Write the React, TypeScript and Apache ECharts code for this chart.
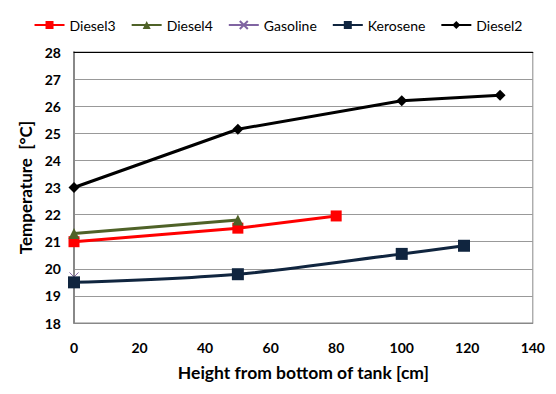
import React, { useEffect, useRef } from "react";
import * as echarts from "echarts";

// Heights above the tank bottom [cm] and measured temperatures [°C]
const diesel3Height = [0, 50, 80];
const diesel3Temp = [21.0, 21.5, 21.95];
const diesel4Height = [0, 50];
const diesel4Temp = [21.3, 21.8];
const gasolineHeight = [0];
const gasolineTemp = [19.7];
const keroseneHeight = [0, 50, 100, 119];
const keroseneTemp = [19.5, 19.8, 20.55, 20.85];
const diesel2Height = [0, 50, 100, 130];
const diesel2Temp = [23.0, 25.15, 26.2, 26.4];

const pairs = (xs: number[], ys: number[]) => xs.map((x, i) => [x, ys[i]]);

const FONT = "Lato, 'Open Sans', sans-serif";

export default function App() {
  const ref = useRef<HTMLDivElement>(null);

  useEffect(() => {
    if (!ref.current) return;
    const chart = echarts.init(ref.current, undefined, { renderer: "svg" });

    const lineSeries = (
      name: string,
      data: number[][],
      color: string,
      symbol: string,
      symbolSize: number,
      smooth: number | boolean = false
    ) => ({
      name,
      type: "line",
      data,
      smooth,
      symbol,
      symbolSize,
      showSymbol: true,
      lineStyle: { color, width: 3 },
      itemStyle: { color, borderColor: color, borderWidth: symbol.startsWith("path") ? 1 : 0 },
      z: 3,
    });

    chart.setOption({
      animation: false,
      backgroundColor: "#fff",
      textStyle: { fontFamily: FONT },
      legend: {
        top: 5,
        left: "center",
        itemWidth: 30,
        itemHeight: 10,
        itemGap: 15,
        textStyle: { fontFamily: FONT, fontSize: 14, color: "#000" },
        data: ["Diesel3", "Diesel4", "Gasoline", "Kerosene", "Diesel2"],
      },
      grid: {
        left: 66,
        right: 5,
        top: 44,
        bottom: 57,
        show: true,
        borderColor: "#888",
        borderWidth: 1,
      },
      xAxis: [
        {
          type: "value",
          min: 0,
          max: 140,
          interval: 20,
          name: "Height from bottom of tank [cm]",
          nameLocation: "middle",
          nameGap: 40,
          nameTextStyle: { fontFamily: FONT, fontSize: 17.5, fontWeight: "bold", color: "#000" },
          axisLine: { show: true, lineStyle: { color: "#888", width: 1 } },
          axisTick: { show: false },
          splitLine: { show: false },
          axisLabel: { margin: 17, fontFamily: FONT, fontSize: 14, fontWeight: "bold", color: "#000" },
        },
        {
          type: "value",
          position: "top",
          min: 0,
          max: 140,
          axisLine: { show: true, lineStyle: { color: "#000", width: 1 } },
          axisTick: { show: false },
          axisLabel: { show: false },
          splitLine: { show: false },
        },
      ],
      yAxis: {
        type: "value",
        min: 18,
        max: 28,
        interval: 1,
        name: "Temperature  [°C]",
        nameLocation: "middle",
        nameGap: 37,
        nameRotate: 90,
        nameTextStyle: { fontFamily: FONT, fontSize: 17, fontWeight: "bold", color: "#000" },
        axisLine: { show: true, lineStyle: { color: "#888", width: 2 } },
        axisTick: { show: false },
        splitLine: { show: true, lineStyle: { color: "#999", width: 1 } },
        axisLabel: { margin: 13, fontFamily: FONT, fontSize: 14, fontWeight: "bold", color: "#000" },
      },
      series: [
        lineSeries("Diesel3", pairs(diesel3Height, diesel3Temp), "#FF0000", "rect", 11),
        lineSeries("Diesel4", pairs(diesel4Height, diesel4Temp), "#4F6228", "triangle", 11),
        lineSeries(
          "Gasoline",
          pairs(gasolineHeight, gasolineTemp),
          "#8064A2",
          "path://M0,0L10,10M10,0L0,10",
          9
        ),
        lineSeries("Kerosene", pairs(keroseneHeight, keroseneTemp), "#10253F", "rect", 12, 0.3),
        lineSeries("Diesel2", pairs(diesel2Height, diesel2Temp), "#000000", "diamond", 11),
      ],
    });

    return () => chart.dispose();
  }, []);

  return <div ref={ref} style={{ width: 540, height: 378 }} />;
}
